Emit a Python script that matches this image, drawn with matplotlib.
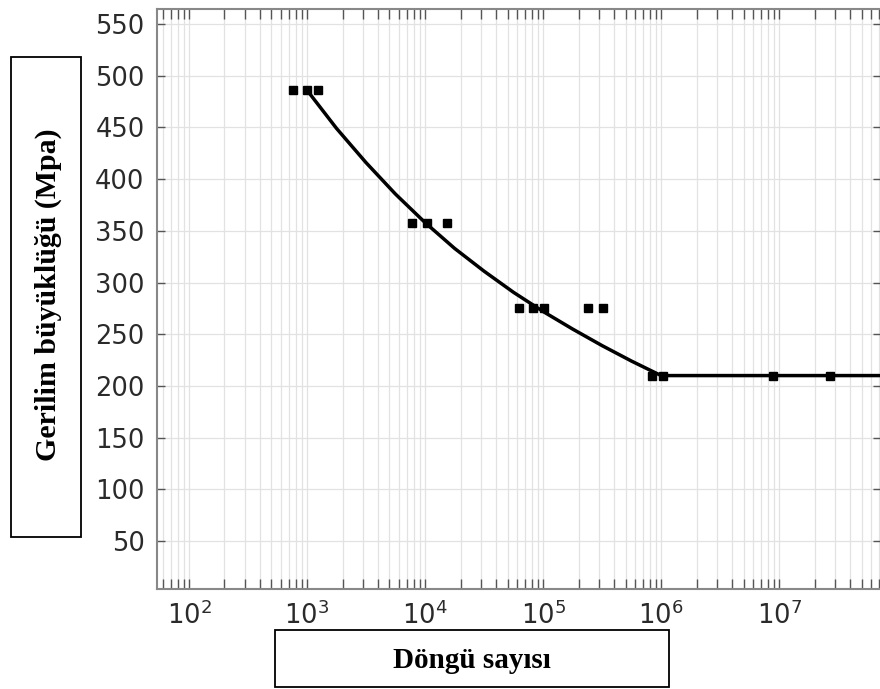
import matplotlib
matplotlib.use("Agg")
import matplotlib.pyplot as plt
from matplotlib.ticker import LogLocator, NullFormatter, FixedLocator
from matplotlib.patches import Rectangle

# Data
test_cycles = [760, 1000, 1240,
               7760, 10400, 15300,
               62700, 82300, 102000, 240000, 322000,
               840000, 1040000, 8.9e6, 2.7e7]
test_stress = [486, 486, 486,
               358, 358, 358,
               275, 275, 275, 275, 275,
               210, 210, 210, 210]

curve_cycles = [1000, 1780, 3160, 5620, 10000, 17800, 31600, 56200,
                100000, 178000, 316000, 562000, 1000000, 7.3e7]
curve_stress = [486, 449, 416, 385.5, 358, 333, 311, 290.5,
                272, 255, 239, 224, 210, 210]

y_ticks = [50, 100, 150, 200, 250, 300, 350, 400, 450, 500, 550]
x_ticks = [1e2, 1e3, 1e4, 1e5, 1e6, 1e7]
x_tick_labels = [r"$10^{2}$", r"$10^{3}$", r"$10^{4}$", r"$10^{5}$", r"$10^{6}$", r"$10^{7}$"]

ylabel_text = "Gerilim büyüklüğü (Mpa)"
xlabel_text = "Döngü sayısı"

W, H = 880, 689
fig = plt.figure(figsize=(W / 100, H / 100), dpi=100)
ax = fig.add_axes([157 / W, 1 - 589 / H, (881 - 157) / W, (589 - 9) / H])

ax.set_xscale("log")
ax.set_xlim(53.6, 7.3e7)
ax.set_ylim(3.6, 564.5)

ax.plot(curve_cycles, curve_stress, color="black", lw=2.5, zorder=3,
        solid_capstyle="butt", solid_joinstyle="round")
ax.plot(test_cycles, test_stress, ls="none", marker="s", ms=6.0, color="black", zorder=4)

ax.xaxis.set_major_locator(FixedLocator(x_ticks))
ax.set_xticklabels(x_tick_labels)
ax.xaxis.set_minor_locator(LogLocator(base=10, subs=[2, 3, 4, 5, 6, 7, 8, 9], numticks=20))
ax.xaxis.set_minor_formatter(NullFormatter())
ax.set_yticks(y_ticks)

ax.grid(True, which="both", axis="x", color="#e2e2e2", lw=0.9)
ax.grid(True, which="major", axis="y", color="#e2e2e2", lw=0.9)
ax.set_axisbelow(True)

tick_col = "#555555"
ax.tick_params(axis="both", which="both", direction="in", top=True, right=True,
               color=tick_col, width=1.0)
ax.tick_params(axis="x", which="both", length=7)
ax.tick_params(axis="y", which="major", length=6)
ax.tick_params(axis="both", which="major", labelsize=18.5, labelcolor="#2a2a2a", pad=9)

for s in ax.spines.values():
    s.set_color("#888888")
    s.set_linewidth(1.5)

serif = ["Liberation Serif", "DejaVu Serif"]

# y label box
fig.patches.append(Rectangle((11 / W, 1 - 537 / H), 70 / W, 480 / H, transform=fig.transFigure,
                             facecolor="white", edgecolor="black", lw=1.3))
fig.text(48 / W, 1 - 295 / H, ylabel_text, rotation=90, ha="center", va="center",
         fontsize=21.5, fontweight="bold", family=serif)

# x label box
fig.patches.append(Rectangle((275 / W, 1 - 687 / H), (669 - 275) / W, 57 / H, transform=fig.transFigure,
                             facecolor="white", edgecolor="black", lw=1.3))
fig.text(472 / W, 1 - 660 / H, xlabel_text, ha="center", va="center",
         fontsize=21, fontweight="bold", family=serif)

fig.savefig("out.png", dpi=100)
